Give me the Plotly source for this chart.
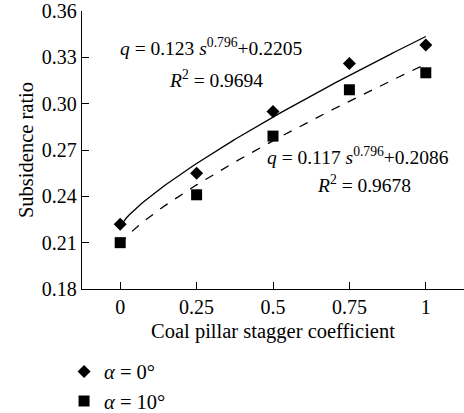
import numpy as np
import plotly.graph_objects as go

x_labels = ["0", "0.25", "0.5", "0.75", "1"]
x_values = [0, 0.25, 0.5, 0.75, 1]
alpha0 = [0.222, 0.255, 0.295, 0.326, 0.338]
alpha10 = [0.210, 0.241, 0.279, 0.309, 0.320]
fit0 = (0.123, 0.796, 0.2205)
fit10 = (0.117, 0.796, 0.2086)

FONT = "Liberation Serif"
s = np.linspace(0, 1, 101)
xi = s * 4  # category index position

fig = go.Figure()
for (a, b, c), dash in [(fit0, "solid"), (fit10, "dash")]:
    fig.add_trace(go.Scatter(x=xi, y=a * s ** b + c, mode="lines",
                             line=dict(color="black", width=1.3, dash=dash),
                             showlegend=False, hoverinfo="skip"))
fig.add_trace(go.Scatter(x=list(range(5)), y=alpha0, mode="markers", name="<i>α</i> = 0°",
                         marker=dict(symbol="diamond", size=10, color="black")))
fig.add_trace(go.Scatter(x=list(range(5)), y=alpha10, mode="markers", name="<i>α</i> = 10°",
                         marker=dict(symbol="square", size=11, color="black")))

ann = [
    (1.19, 0.3368, "<i>q</i> = 0.123 <i>s</i><sup>0.796</sup>+0.2205"),
    (1.25, 0.3160, "<i>R</i><sup>2</sup> = 0.9694"),
    (3.11, 0.2658, "<i>q</i> = 0.117 <i>s</i><sup>0.796</sup>+0.2086"),
    (3.19, 0.2477, "<i>R</i><sup>2</sup> = 0.9678"),
]
for x, y, t in ann:
    fig.add_annotation(x=x, y=y, text=t, showarrow=False, xref="x", yref="y",
                       font=dict(family=FONT, size=19.5, color="black"))

fig.update_layout(
    width=464, height=413, margin=dict(l=82, r=0, t=11, b=124, autoexpand=False),
    paper_bgcolor="white", plot_bgcolor="white",
    font=dict(family=FONT, size=18, color="black"),
    xaxis=dict(range=[-0.5, 4.5], tickvals=list(range(5)), ticktext=x_labels,
               ticks="inside", ticklen=7, tickcolor="black", showline=True,
               linecolor="black", linewidth=1.3, showgrid=False, zeroline=False,
               tickfont=dict(family=FONT, size=20),
               title=dict(text="Coal pillar stagger coefficient", standoff=6,
                          font=dict(family=FONT, size=20.5))),
    yaxis=dict(range=[0.18, 0.36], tickvals=[0.18, 0.21, 0.24, 0.27, 0.30, 0.33, 0.36],
               tickformat=".2f", ticks="inside", ticklen=7, tickcolor="black",
               showline=True, linecolor="black", linewidth=1.3, showgrid=False,
               zeroline=False, tickfont=dict(family=FONT, size=20),
               ticklabeloverflow="allow",
               title=dict(text="Subsidence ratio", standoff=2,
                          font=dict(family=FONT, size=20.5))),
    legend=dict(x=-0.047, y=-0.225, xanchor="left", yanchor="top",
                bgcolor="rgba(0,0,0,0)", font=dict(family=FONT, size=20.5),
                tracegroupgap=0),
    showlegend=True,
)
fig.write_html("out.html")
